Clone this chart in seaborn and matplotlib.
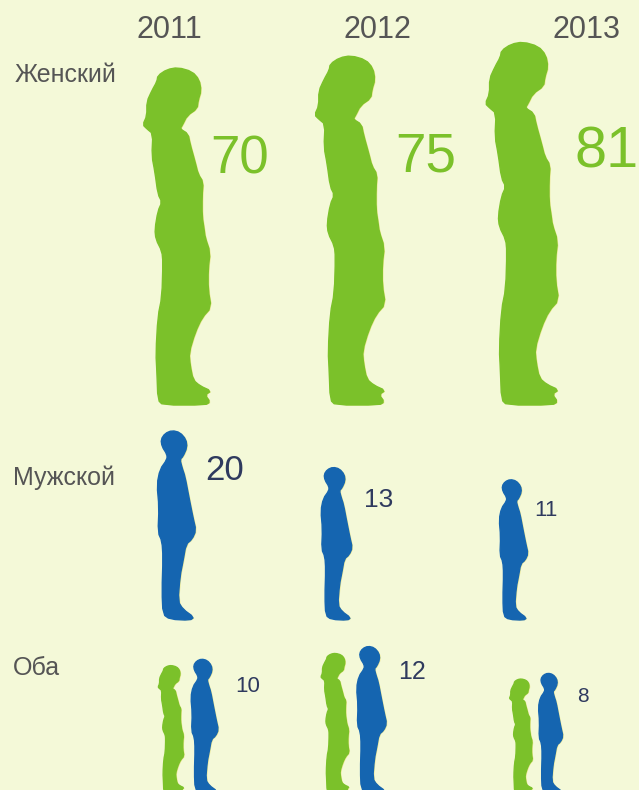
import numpy as np
import pandas as pd
import matplotlib
matplotlib.use('Agg')
import matplotlib.pyplot as plt
import matplotlib.patheffects as pe
from matplotlib.path import Path
import seaborn as sns

# Data
years = [2011, 2012, 2013]
groups = ['Женский', 'Мужской', 'Оба']
women = [70, 75, 81]
men = [20, 13, 11]
both = [10, 12, 8]

BG = '#F4F9D8'
GREEN = '#7BC12A'
BLUE = '#1565B0'
NAVY = '#2F3A5E'
GREY = '#555555'
SHADOW = '#E9E27E'

# Outlines (pixels of the largest-view figures)
woman_xy = np.array([
    (178, 69), (192, 73), (199, 81), (201, 92), (198, 102), (197, 110), (187, 117), (182, 127), (180, 130),
    (188, 135), (190, 145), (195, 163), (198, 175), (203, 183), (202, 197), (202, 217), (204, 230),
    (205, 238), (210, 253), (208, 270), (208, 290), (211, 308), (202, 318), (195, 333), (189, 353),
    (190, 365), (193, 380), (200, 386), (211, 391), (205, 395), (210, 402), (205, 405), (163, 405),
    (158, 400), (157, 373), (156, 353), (158, 317), (162, 297), (163, 263), (162, 252), (156, 240),
    (155, 230), (158, 212), (162, 203), (158, 195), (155, 173), (152, 157), (153, 135), (147, 130),
    (143, 126), (147, 117), (147, 103), (152, 92), (157, 83), (158, 77), (167, 71),
], dtype=float)
man_xy = np.array([
    (172, 431), (180, 433), (186, 440), (187, 448), (183, 457), (180, 460), (182, 468), (185, 477),
    (189, 498), (193, 518), (196, 531), (192, 540), (186, 545), (183, 562), (180, 577), (178, 602),
    (183, 610), (194, 618), (190, 621), (170, 620), (163, 615), (162, 592), (163, 558), (162, 542),
    (158, 533), (159, 508), (157, 485), (160, 470), (167, 460), (167, 455), (162, 447), (161, 440), (165, 434),
], dtype=float)


def chaikin(pts, rounds=1):
    for _ in range(rounds):
        nxt = np.roll(pts, -1, axis=0)
        pts = np.column_stack([0.75 * pts + 0.25 * nxt, 0.25 * pts + 0.75 * nxt]).reshape(-1, 2)
    return pts


def make_marker(xy, cx):
    # origin at the feet, top of the head at y=1, so the point is the baseline
    pts = chaikin(xy)
    foot = pts[:, 1].max()
    h = foot - pts[:, 1].min()
    verts = np.column_stack([(pts[:, 0] - cx) / h, (foot - pts[:, 1]) / h])
    return Path(np.vstack([verts, verts[0]]), closed=True)


woman_marker = make_marker(woman_xy, 177)
man_marker = make_marker(man_xy, 177)

# Layout in pixels
row_base = {'Женский': 405, 'Мужской': 620, 'Оба': 793}
x_women = [177, 350, 522]
x_men = [177, 337, 514]
x_both_w = [171, 335, 521]
x_both_m = [205, 372, 551]

df_w = pd.DataFrame({
    'value': women + both,
    'x': x_women + x_both_w,
    'y': [row_base['Женский']] * 3 + [row_base['Оба']] * 3,
})
df_m = pd.DataFrame({
    'value': men + both,
    'x': x_men + x_both_m,
    'y': [row_base['Мужской']] * 3 + [row_base['Оба']] * 3,
})

plt.rcParams['font.family'] = ['Liberation Sans', 'DejaVu Sans']
fig = plt.figure(figsize=(6.39, 7.90), dpi=100, facecolor=BG)
ax = fig.add_axes([0, 0, 1, 1])
ax.set_facecolor(BG)

# marker area follows the value
K_W = 3364
K_M = 3704
for data, marker, color, k in [(df_w, woman_marker, GREEN, K_W), (df_m, man_marker, BLUE, K_M)]:
    sns.scatterplot(data=data, x='x', y='y', size='value', sizes=(0, k * 100), size_norm=(0, 100),
                    marker=marker, color=color, edgecolor=color, linewidth=1.0,
                    legend=False, ax=ax)
for coll in ax.collections:
    coll.set_path_effects([pe.SimplePatchShadow(offset=(0.9, -0.3), shadow_rgbFace=SHADOW, alpha=0.8), pe.Normal()])

ax.set_xlim(0, 639)
ax.set_ylim(790, 0)
ax.axis('off')

for year, x in zip(years, [169, 377, 586]):
    ax.text(x, 30, str(year), fontsize=22, color=GREY, ha='center', va='center')
for group, x, y in zip(groups, [15, 13, 13], [75, 478, 668]):
    ax.text(x, y, group, fontsize=18, color=GREY, ha='left', va='center')

for v, x, y, fs in zip(women, [240, 426, 607], [159, 157, 153], [38, 39.5, 41.5]):
    ax.text(x, y, str(v), fontsize=fs, color=GREEN, ha='center', va='center')
for v, x, y, fs in zip(men, [225, 379, 546], [471, 500, 511], [25, 19, 16]):
    ax.text(x, y, str(v), fontsize=fs, color=NAVY, ha='center', va='center')
for v, x, y, fs in zip(both, [248, 412, 583], [686, 672, 697], [16, 18, 15]):
    ax.text(x, y, str(v), fontsize=fs, color=NAVY, ha='center', va='center')

plt.savefig('out.png', dpi=100, facecolor=BG)
plt.close(fig)
